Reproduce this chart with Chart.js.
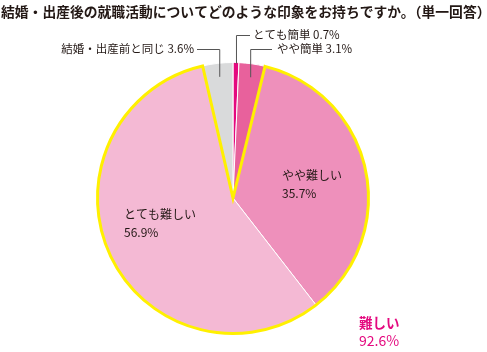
<!DOCTYPE html>
<html>
<head>
<meta charset="utf-8">
<script src="https://cdn.jsdelivr.net/npm/chart.js@4/dist/chart.umd.min.js"></script>
<style>
  html, body { margin: 0; padding: 0; background: #fff; }
  #pie { display: block; }
</style>
</head>
<body>
<canvas id="pie" width="487" height="352"></canvas>
<script>
const titleText = "結婚・出産後の就職活動についてどのような印象をお持ちですか。（単一回答）";
const categories = ["とても簡単", "やや簡単", "やや難しい", "とても難しい", "結婚・出産前と同じ"];
const values = [0.7, 3.1, 35.7, 56.9, 3.6];
const sliceColors = ["#e4097f", "#e8619c", "#ee90bb", "#f4b9d4", "#d9dadb"];
const hardGroup = [2, 3];
const hardLabel = "難しい";
const hardTotal = 92.6;

const FONT = '"Noto Sans CJK JP", "Noto Sans", sans-serif';

const labelPlugin = {
  id: "labels",
  afterDatasetsDraw(chart) {
    const ctx = chart.ctx;
    const arcs = chart.getDatasetMeta(0).data;
    const cx = arcs[0].x, cy = arcs[0].y, r = arcs[0].outerRadius;

    // yellow outline around the "difficult" slices
    const a0 = arcs[hardGroup[0]].startAngle;
    const a1 = arcs[hardGroup[hardGroup.length - 1]].endAngle;
    ctx.save();
    ctx.strokeStyle = "#fff000";
    ctx.lineWidth = 3;
    ctx.lineJoin = "miter";
    ctx.beginPath();
    ctx.moveTo(cx, cy);
    ctx.arc(cx, cy, r, a0, a1);
    ctx.closePath();
    ctx.stroke();
    ctx.restore();

    // title
    ctx.save();
    ctx.fillStyle = "#231815";
    ctx.font = "bold 13.8px " + FONT;
    ctx.textBaseline = "middle";
    ctx.textAlign = "left";
    ctx.fillText(titleText, 1, 12);

    // leader lines
    ctx.strokeStyle = "#555";
    ctx.lineWidth = 1;
    function leader(pts) {
      ctx.beginPath();
      ctx.moveTo(pts[0][0], pts[0][1]);
      for (let i = 1; i < pts.length; i++) ctx.lineTo(pts[i][0], pts[i][1]);
      ctx.stroke();
    }
    function midPoint(i, f) {
      const a = (arcs[i].startAngle + arcs[i].endAngle) / 2;
      return [cx + Math.cos(a) * r * f, cy + Math.sin(a) * r * f];
    }
    const p0 = midPoint(0, 1.0);
    leader([[p0[0] + 0.5, p0[1] + 1], [p0[0] + 0.5, 35.5], [250, 35.5]]);
    const p1 = midPoint(1, 0.9);
    leader([[p1[0] + 0.5, p1[1]], [p1[0] + 0.5, 49.5], [272, 49.5]]);
    const p4 = midPoint(4, 0.9);
    leader([[p4[0] + 0.5, p4[1]], [p4[0] + 0.5, 49.5], [197, 49.5]]);

    ctx.fillStyle = "#231815";
    ctx.font = "11.5px " + FONT;
    ctx.fillText(categories[0] + " " + values[0].toFixed(1) + "%", 253, 35);
    ctx.fillText(categories[1] + " " + values[1].toFixed(1) + "%", 277, 49);
    ctx.textAlign = "right";
    ctx.fillText(categories[4] + " " + values[4].toFixed(1) + "%", 194, 49);

    // labels inside slices
    ctx.textAlign = "left";
    ctx.font = "12px " + FONT;
    ctx.fillText(categories[2], 282, 175);
    ctx.fillText(values[2].toFixed(1) + "%", 282, 193);
    ctx.fillText(categories[3], 124, 214);
    ctx.fillText(values[3].toFixed(1) + "%", 124, 232);

    // group total
    ctx.fillStyle = "#e4097f";
    ctx.font = "bold 13.5px " + FONT;
    ctx.fillText(hardLabel, 359, 323);
    ctx.font = "14px " + FONT;
    ctx.fillText(hardTotal.toFixed(1) + "%", 359, 341);
    ctx.restore();
  }
};

new Chart(document.getElementById("pie"), {
  type: "pie",
  data: {
    labels: categories,
    datasets: [{
      data: values,
      backgroundColor: sliceColors,
      borderColor: "#ffffff",
      borderWidth: 1
    }]
  },
  options: {
    responsive: false,
    animation: false,
    layout: { padding: { top: 62, bottom: 18, left: 97, right: 118 } },
    plugins: {
      legend: { display: false },
      tooltip: { enabled: false },
      title: { display: false }
    }
  },
  plugins: [labelPlugin]
});
</script>
</body>
</html>
